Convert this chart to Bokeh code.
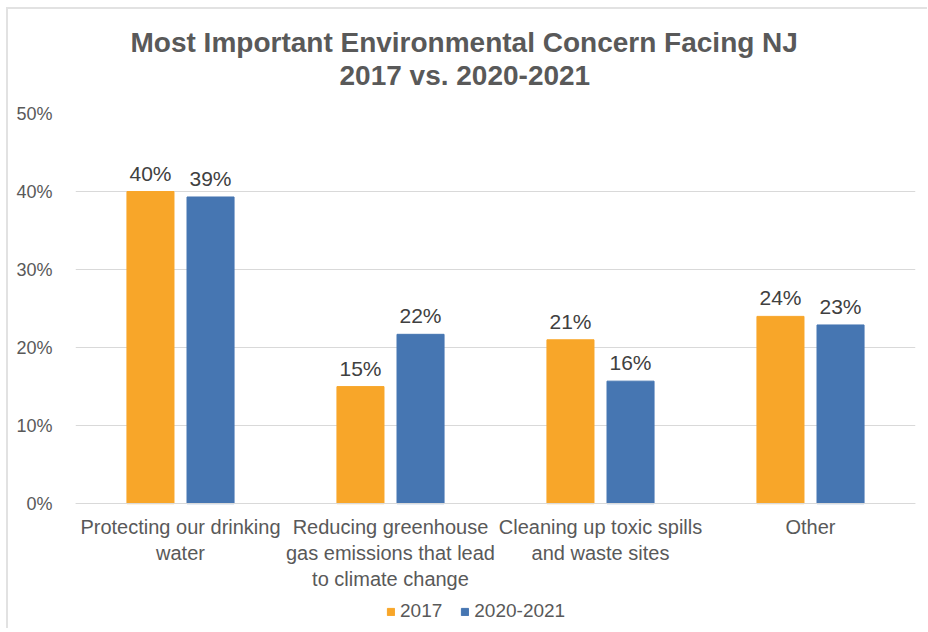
from bokeh.plotting import figure
from bokeh.models import (ColumnDataSource, LabelSet, Title, Legend, LegendItem,
                          FixedTicker, PrintfTickFormatter, Range1d, FactorRange)
from bokeh.core.properties import value
from bokeh.transform import dodge
from bokeh.embed import file_html
from bokeh.resources import INLINE

categories = ["Protecting our drinking\nwater",
              "Reducing greenhouse\ngas emissions that lead\nto climate change",
              "Cleaning up toxic spills\nand waste sites",
              "Other"]
series_names = ["2017", "2020-2021"]
values_2017 = [40, 15, 21, 24]
values_2020 = [39.3, 21.7, 15.7, 22.9]
labels_2017 = ["40%", "15%", "21%", "24%"]
labels_2020 = ["39%", "22%", "16%", "23%"]
y_ticks = [0, 10, 20, 30, 40, 50]
title_lines = ["Most Important Environmental Concern Facing NJ", "2017 vs. 2020-2021"]

FONT = "Liberation Sans"
TXT = "#595959"
ORANGE = "#F8A629"
BLUE = "#4676B2"

# plot scale: 7.8 px per percentage point; the frame reaches below 0 so the
# category labels and the legend sit inside it
Y_MIN, Y_MAX, PX_PER_UNIT = -16.0, 50, 7.8

src = ColumnDataSource(dict(cat=categories, v17=values_2017, v20=values_2020,
                            l17=labels_2017, l20=labels_2020))

p = figure(x_range=FactorRange(*categories), y_range=Range1d(Y_MIN, Y_MAX), title=None,
           frame_width=840, frame_height=round((Y_MAX - Y_MIN) * PX_PER_UNIT),
           output_backend="svg", toolbar_location=None,
           min_border_left=67, min_border_right=12, min_border_top=104,
           min_border_bottom=0)
p.styles = {"border-left": "2px solid #e2e2e2", "border-top": "2px solid #e2e2e2",
            "margin-left": "6px", "margin-top": "7px"}
p.outline_line_color = None
p.xgrid.grid_line_color = None
p.ygrid.grid_line_color = "#d9d9d9"
p.ygrid.grid_line_width = 1.2
p.ygrid.ticker = FixedTicker(ticks=y_ticks)

r1 = p.vbar(x=dodge("cat", -0.143, range=p.x_range), top="v17", width=0.224,
            source=src, fill_color=ORANGE, line_color=ORANGE)
r2 = p.vbar(x=dodge("cat", 0.143, range=p.x_range), top="v20", width=0.224,
            source=src, fill_color=BLUE, line_color=BLUE)

for col, lab, off in (("v17", "l17", -0.143), ("v20", "l20", 0.143)):
    p.add_layout(LabelSet(x=dodge("cat", off, range=p.x_range), y=col, text=lab,
                          source=src, text_align="center", text_baseline="bottom",
                          y_offset=7, text_font=value(FONT), text_font_size="21px",
                          text_color="#404040"))

p.yaxis.ticker = FixedTicker(ticks=y_ticks)
p.yaxis.formatter = PrintfTickFormatter(format="%d%%")
p.yaxis.axis_line_color = None
p.yaxis.major_tick_line_color = None
p.yaxis.minor_tick_line_color = None
p.yaxis.major_label_text_font = FONT
p.yaxis.major_label_text_font_size = "18px"
p.yaxis.major_label_text_color = TXT
p.yaxis.major_label_standoff = 17

p.xaxis.fixed_location = 0
p.xaxis.axis_line_color = "#d9d9d9"
p.xaxis.axis_line_width = 1.2
p.xaxis.major_tick_line_color = None
p.xaxis.minor_tick_line_color = None
p.xaxis.major_tick_out = 0
p.xaxis.major_tick_in = 0
p.xaxis.major_label_text_font = FONT
p.xaxis.major_label_text_font_size = "20px"
p.xaxis.major_label_text_color = TXT
p.xaxis.major_label_standoff = 12

legend = Legend(items=[LegendItem(label=series_names[0], renderers=[r1]),
                       LegendItem(label=series_names[1], renderers=[r2])],
                orientation="horizontal", location=(311, 6),
                border_line_color=None, background_fill_alpha=0,
                label_text_font=FONT, label_text_font_size="19px",
                label_text_color=TXT, glyph_width=9, glyph_height=9,
                spacing=18, label_standoff=5, padding=2, margin=0)
p.add_layout(legend)

# spacer between the title block and the plot area
p.add_layout(Title(text=" ", text_font=FONT, text_font_size="14px", standoff=5),
             "above")
p.add_layout(Title(text=title_lines[1], align="left", offset=264, standoff=0,
                   text_font=FONT, text_font_size="28px", text_font_style="bold",
                   text_color=TXT), "above")
p.add_layout(Title(text=title_lines[0], align="left", offset=55, standoff=0,
                   text_font=FONT, text_font_size="28px", text_font_style="bold",
                   text_color=TXT), "above")

open("out.html", "w").write(file_html(p, INLINE))
